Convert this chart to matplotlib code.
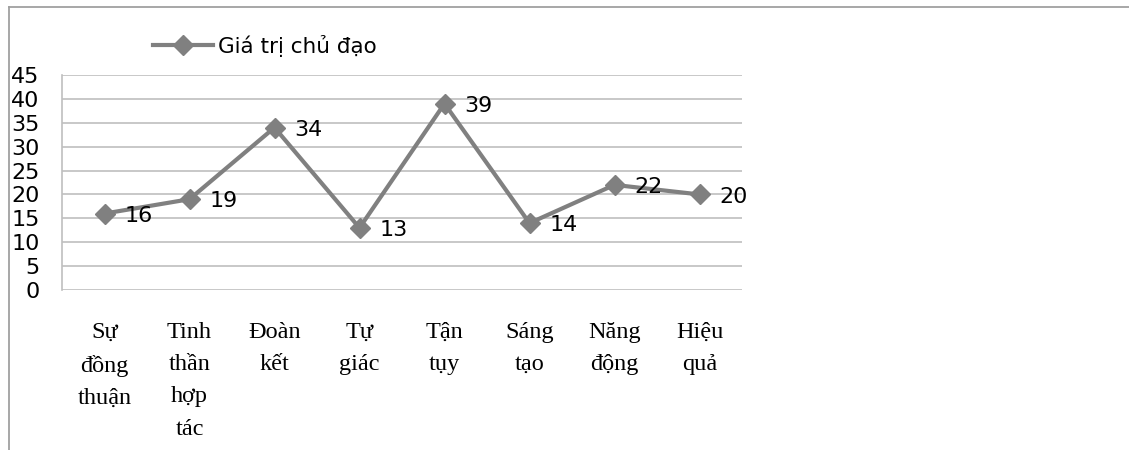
import matplotlib
matplotlib.use("Agg")
import matplotlib.pyplot as plt
from matplotlib.lines import Line2D

categories = ["Sự\nđồng\nthuận", "Tinh\nthần\nhợp\ntác", "Đoàn\nkết", "Tự\ngiác",
              "Tận\ntụy", "Sáng\ntạo", "Năng\nđộng", "Hiệu\nquả"]
values = [16, 19, 34, 13, 39, 14, 22, 20]
series_name = "Giá trị chủ đạo"
yticks = [0, 5, 10, 15, 20, 25, 30, 35, 40, 45]

W, H = 1129, 450
fig = plt.figure(figsize=(W / 100, H / 100), dpi=100)
fig.patch.set_facecolor("white")

# plot area in pixels
L, R, T, B = 62, 742, 75, 290
ax = fig.add_axes([L / W, 1 - B / H, (R - L) / W, (B - T) / H])

x = list(range(len(values)))
line_color = "#808080"
ln, = ax.plot(x, values, color=line_color, lw=3, marker="D", ms=10,
              mfc=line_color, mec=line_color, zorder=3, label=series_name)

ax.set_xlim(-0.5, len(values) - 0.5)
ax.set_ylim(0, 45)
ax.set_yticks(yticks)
ax.set_yticklabels([str(v) for v in yticks], fontsize=16, family="DejaVu Sans")
for t in ax.get_yticklabels():
    t.set_va("center_baseline")
ax.set_xticks(x)
ax.set_xticklabels(categories, fontsize=17.5, family="Liberation Serif",
                   linespacing=1.7, va="top")
ax.tick_params(axis="both", length=0)
ax.tick_params(axis="y", pad=16)
ax.tick_params(axis="x", pad=23)

ax.grid(axis="y", color="#bfbfbf", lw=1.2)
ax.set_axisbelow(True)
for s in ["top", "right", "bottom"]:
    ax.spines[s].set_visible(False)
ax.spines["left"].set_color("#bfbfbf")
ax.spines["left"].set_linewidth(1.2)

for xi, v in zip(x, values):
    ax.annotate(str(v), (xi, v), xytext=(14.5, -1.5), textcoords="offset points",
                ha="left", va="center", fontsize=16, family="DejaVu Sans")

# legend
leg = fig.legend(handles=[ln], labels=[series_name], loc="center left",
                 bbox_to_anchor=(153 / W, 1 - 46 / H), frameon=False,
                 fontsize=15.5, handlelength=2.8, handletextpad=0.2,
                 borderaxespad=0, borderpad=0)
for t in leg.get_texts():
    t.set_family("DejaVu Sans")

# outer frame (top and left)
frame_c = "#a0a0a0"
fig.add_artist(Line2D([9 / W, 1], [1 - 7 / H, 1 - 7 / H], color=frame_c, lw=1.3,
                      transform=fig.transFigure))
fig.add_artist(Line2D([9 / W, 9 / W], [1 - 7 / H, 0], color=frame_c, lw=1.3,
                      transform=fig.transFigure))

fig.savefig("out.png", dpi=100)
